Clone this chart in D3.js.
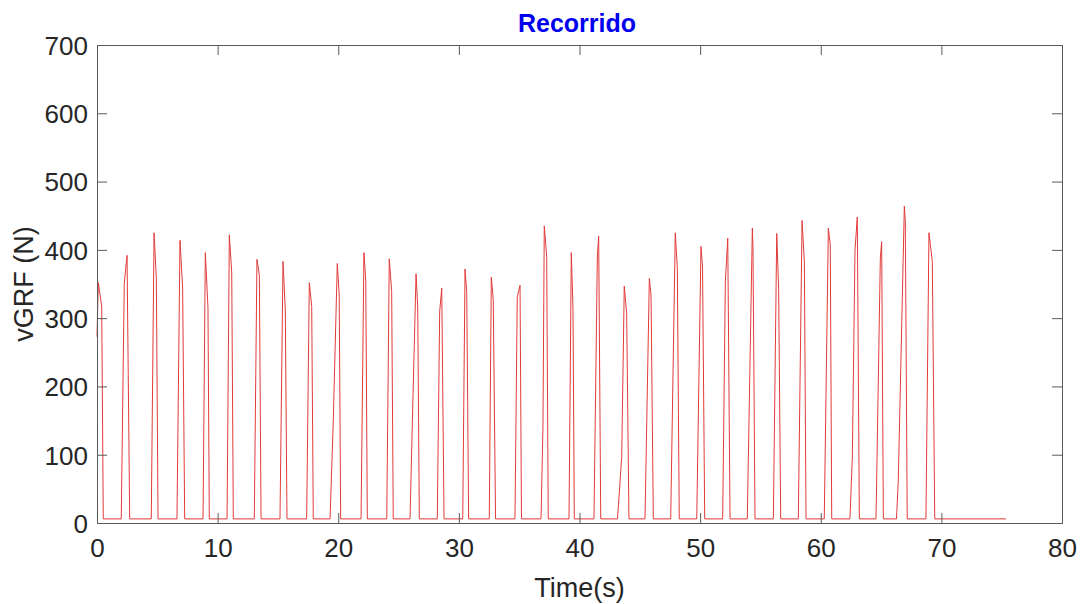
<!DOCTYPE html>
<html>
<head>
<meta charset="utf-8">
<script src="https://cdn.jsdelivr.net/npm/d3@7"></script>
<style>
  html, body { margin: 0; padding: 0; background: #ffffff; }
  svg { display: block; }
  text { font-family: "Liberation Sans", Arial, Helvetica, sans-serif; }
</style>
</head>
<body>
<svg id="chart" width="1084" height="604"></svg>
<script>
// ---- Data ----
const title = "Recorrido";
const xLabel = "Time(s)";
const yLabel = "vGRF (N)";
const xTicks = [0, 10, 20, 30, 40, 50, 60, 70, 80];
const yTicks = [0, 100, 200, 300, 400, 500, 600, 700];

const baselineN = 6;       // force level between steps (N)
const firstValueN = 273;   // signal value at t = 0
const endTime = 75.36;     // last sample time (s)

// one entry per step (33 steps)
const onsetT = [0.00, 2.01, 4.50, 6.63, 8.79, 10.78, 13.04, 15.17, 17.38, 19.32, 21.89, 24.02, 25.95, 28.21, 30.32, 32.52, 34.65, 36.81, 39.13, 41.20, 43.15, 45.43, 47.56, 49.72, 51.87, 53.91, 56.07, 58.14, 60.29, 62.42, 64.58, 66.28, 68.72];
const toeT   = [null, null, null, null, null, null, null, null, null, 19.59, null, null, 26.12, null, null, null, null, 36.97, null, null, 43.50, null, null, null, null, null, null, null, null, 62.62, null, 66.43, null];
const toeN   = [null, null, null, null, null, null, null, null, null, 151, null, null, 130, null, null, null, null, 140, null, null, 97, null, null, null, null, null, null, null, null, 97, null, 63, null];
const peakT  = [0.11, 2.49, 4.73, 6.88, 8.98, 10.97, 13.26, 15.42, 17.60, 19.92, 22.13, 24.23, 26.45, 28.58, 30.51, 32.69, 35.07, 37.08, 39.32, 41.59, 43.71, 45.79, 47.94, 50.07, 52.29, 54.33, 56.35, 58.45, 60.63, 63.03, 65.05, 66.93, 68.97];
const peakN  = [352, 392, 425, 414, 396, 422, 386, 383, 352, 380, 396, 387, 365, 344, 372, 360, 348, 435, 396, 420, 347, 358, 425, 405, 417, 432, 424, 443, 432, 448, 412, 464, 425];
const secT   = [0.39, 2.26, 4.92, 7.10, 9.20, 11.17, 13.46, 15.61, 17.80, 20.08, 22.28, 24.43, 26.59, 28.41, 30.65, 32.85, 34.84, 37.28, 39.46, 41.48, 43.91, 45.93, 48.11, 50.20, 52.09, 54.38, 56.51, 58.64, 60.79, 62.84, 64.94, 67.01, 69.25];
const secN   = [317, 351, 358, 344, 315, 366, 363, 312, 317, 334, 355, 339, 315, 310, 339, 327, 331, 390, 314, 391, 307, 334, 373, 375, 353, 405, 342, 383, 407, 400, 388, 441, 383];
const offsetT= [0.52, 2.71, 5.06, 7.27, 9.31, 11.30, 13.60, 15.75, 17.93, 20.20, 22.41, 24.56, 26.72, 28.77, 30.81, 33.04, 35.19, 37.41, 39.57, 41.76, 44.10, 46.12, 48.27, 50.38, 52.48, 54.55, 56.68, 58.78, 60.91, 63.20, 65.19, 67.17, 69.45];

// ---- Build the signal from the step descriptors ----
const signal = [];
onsetT.forEach((t0, i) => {
  const pts = [];
  pts.push({t: t0, v: i === 0 ? firstValueN : baselineN});
  if (toeT[i] !== null) pts.push({t: toeT[i], v: toeN[i]});
  pts.push({t: peakT[i], v: peakN[i]});
  pts.push({t: secT[i], v: secN[i]});
  pts.sort((a, b) => a.t - b.t);
  pts.push({t: offsetT[i], v: baselineN});
  signal.push(...pts);
});
signal.push({t: endTime, v: baselineN});

// ---- Layout ----
const svg = d3.select("#chart");
const margin = {left: 97, right: 1084 - 1062, top: 45, bottom: 604 - 523};
const W = 1084, H = 604;
const x = d3.scaleLinear().domain([0, 80]).range([margin.left, W - margin.right]);
const y = d3.scaleLinear().domain([0, 700]).range([H - margin.bottom, margin.top]);

const axisColor = "#5a5a5a";
const textColor = "#262626";
const tickLen = 10;

// signal line
const line = d3.line().x(d => x(d.t)).y(d => y(d.v));
svg.append("path")
  .datum(signal)
  .attr("fill", "none")
  .attr("stroke", "#e23a3a")
  .attr("stroke-width", 1)
  .attr("stroke-linejoin", "round")
  .attr("d", line);

// axes (inside ticks, boxed)
const fontSize = 26;
const gx = svg.append("g").attr("transform", `translate(0,${y(0)})`)
  .call(d3.axisBottom(x).tickValues(xTicks).tickSize(-tickLen).tickPadding(16).tickFormat(d3.format("d")));
const gxTop = svg.append("g").attr("transform", `translate(0,${y(700)})`)
  .call(d3.axisTop(x).tickValues(xTicks).tickSize(-tickLen).tickFormat(""));
const gy = svg.append("g").attr("transform", `translate(${x(0)},0)`)
  .call(d3.axisLeft(y).tickValues(yTicks).tickSize(-tickLen).tickPadding(9).tickFormat(d3.format("d")));
const gyRight = svg.append("g").attr("transform", `translate(${x(80)},0)`)
  .call(d3.axisRight(y).tickValues(yTicks).tickSize(-tickLen).tickFormat(""));

[gx, gxTop, gy, gyRight].forEach(g => {
  g.select(".domain").attr("stroke", axisColor).attr("stroke-width", 1);
  g.selectAll(".tick line").attr("stroke", axisColor).attr("stroke-width", 1);
  g.selectAll(".tick text").attr("fill", textColor)
    .style("font-size", fontSize + "px")
    .style("font-family", '"Liberation Sans", Arial, Helvetica, sans-serif');
});
gx.selectAll(".tick text").attr("dy", "0.71em");
gy.selectAll(".tick text").attr("dy", "0.36em");

// title
svg.append("text")
  .attr("x", 577)
  .attr("y", 32)
  .attr("text-anchor", "middle")
  .attr("fill", "#0000ee")
  .style("font-size", "25px")
  .style("font-weight", "bold")
  .text(title);

// x label
svg.append("text")
  .attr("x", (x(0) + x(80)) / 2)
  .attr("y", 597)
  .attr("text-anchor", "middle")
  .attr("fill", textColor)
  .style("font-size", "27px")
  .text(xLabel);

// y label
svg.append("text")
  .attr("transform", `translate(33,${(y(0) + y(700)) / 2}) rotate(-90)`)
  .attr("text-anchor", "middle")
  .attr("fill", textColor)
  .style("font-size", "27px")
  .text(yLabel);
</script>
</body>
</html>
